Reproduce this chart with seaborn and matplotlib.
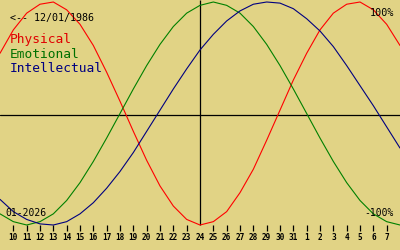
import matplotlib
matplotlib.use("Agg")
import matplotlib.pyplot as plt
import seaborn as sns
import pandas as pd

# Day offsets from the centre date (24 Jan 2026)
offsets = list(range(-15, 16))
physical = [0.54, 0.75, 0.90, 0.98, 1.00, 0.93, 0.80, 0.61, 0.37, 0.11, -0.16, -0.42,
            -0.65, -0.83, -0.95, -1.00, -0.97, -0.88, -0.71, -0.50, -0.24, 0.03, 0.30,
            0.54, 0.75, 0.90, 0.98, 1.00, 0.93, 0.80, 0.61]
emotional = [-0.90, -0.97, -1.00, -0.97, -0.90, -0.78, -0.62, -0.43, -0.22, 0.00, 0.22,
             0.43, 0.62, 0.78, 0.90, 0.97, 1.00, 0.97, 0.90, 0.78, 0.62, 0.43, 0.22,
             0.00, -0.22, -0.43, -0.62, -0.78, -0.90, -0.97, -1.00]
intellectual = [-0.77, -0.88, -0.95, -0.99, -1.00, -0.97, -0.90, -0.80, -0.67, -0.52,
                -0.35, -0.16, 0.03, 0.22, 0.40, 0.57, 0.71, 0.83, 0.92, 0.98, 1.00,
                0.99, 0.94, 0.85, 0.74, 0.60, 0.43, 0.25, 0.07, -0.12, -0.31]

series_names = ["Physical", "Emotional", "Intellectual"]
tick_offsets = list(range(-14, 15))
tick_labels = [str(d) for d in range(10, 32)] + [str(d) for d in range(1, 8)]
birth_label = "<-- 12/01/1986"
month_label = "01-2026"
top_label = "100%"
bottom_label = "-100%"

line_colors = {"Physical": "#ff0000", "Emotional": "#008000", "Intellectual": "#000080"}
bg = "#e1d385"

df = pd.DataFrame({
    "offset": offsets * 3,
    "value": physical + emotional + intellectual,
    "series": [s for s in series_names for _ in offsets],
})

sns.set_style("white")
plt.rcParams["font.family"] = ["DejaVu Sans Mono", "DejaVu Sans"]

W, H = 400, 250
fig = plt.figure(figsize=(W / 100, H / 100), dpi=100, facecolor=bg)
ax = fig.add_axes([0, 0, 1, 1])
ax.set_facecolor(bg)

# pixel mapping: v=1 -> y=2 px, v=-1 -> y=225 px
cy, amp = 113.5, 111.5
def v_of(py):
    return (cy - py) / amp

ax.set_xlim(-15, 15)
ax.set_ylim(v_of(H), v_of(0))

ax.axhline(v_of(115), color="black", lw=0.9, zorder=1)
ax.vlines(0, v_of(225), v_of(0), color="black", lw=0.9, zorder=1)

sns.lineplot(data=df, x="offset", y="value", hue="series", palette=line_colors,
             ax=ax, lw=0.8, legend=False, zorder=3)

tick_x = [t for t in tick_offsets if t != 0]
ax.vlines(tick_x, v_of(231), v_of(225), color="black", lw=0.9)
for t, lab in zip(tick_offsets, tick_labels):
    ax.text(t, v_of(237), lab, ha="center", va="center", fontsize=5.6,
            fontweight="bold", color="black")

ax.set_axis_off()

def px(x, y):
    return x / W, 1 - y / H

fig.text(*px(10, 20.7), birth_label, fontsize=7.2, color="black", va="baseline", ha="left")
fig.text(*px(10, 43), "Physical", fontsize=9.3, color="#e00000", va="baseline", ha="left")
fig.text(*px(10, 57.5), "Emotional", fontsize=9.3, color="#007000", va="baseline", ha="left")
fig.text(*px(10, 72.5), "Intellectual", fontsize=9.3, color="#000080", va="baseline", ha="left")
fig.text(*px(394, 15.7), top_label, fontsize=7.3, color="black", va="baseline", ha="right")
fig.text(*px(394, 216), bottom_label, fontsize=7.0, color="black", va="baseline", ha="right")
fig.text(*px(5, 216), month_label, fontsize=7.0, color="black", va="baseline", ha="left")

fig.savefig("out.png", dpi=100, facecolor=bg)
